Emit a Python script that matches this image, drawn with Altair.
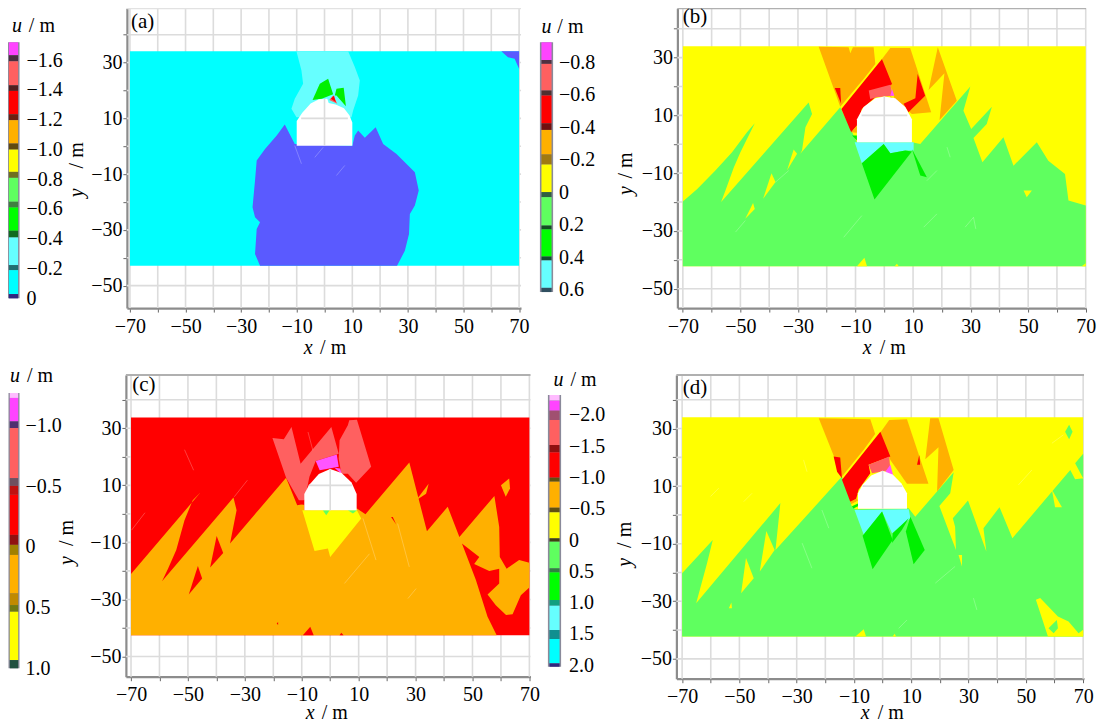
import altair as alt
import pandas as pd

FONT = "'Liberation Serif', 'Times New Roman', serif"
Y = "#ffff00"; LG = "#5fff5f"; G = "#00f000"; LC = "#66ffff"; C = "#00ffff"
O = "#ffb000"; R = "#ff0000"; S = "#ff6060"; M = "#ff55ff"; B = "#5a5aff"; W = "#ffffff"

# ---- panel (a) regions: colour, (x, y) vertices in metres
shapes_a = [
    (C, [(-70, 34.1), (70, 34.1), (70, -42.9), (-70, -42.9)]),
    (LC, [(-10.1, 34.1), (8.5, 34.1), (10.9, 28.4), (12.7, 23.6), (12.1, 18.2), (10.3, 12.8), (9.7, 10.4), (-10.1, 10.4), (-11.9, 13.4), (-10.7, 17), (-7.7, 22.4), (-8.3, 27.2)]),
    (B, [(-23.2, -42.9), (-25, -38.7), (-24.4, -29.7), (-23.2, -27.3), (-25, -25.5), (-25.9, -21.9), (-25, -12.3), (-24.4, -5.1),
         (-21.4, -1), (-17.2, 3.8), (-14.3, 7.8), (-10.7, 0.8), (10, 0.2), (10.9, 3.8), (12.1, 5.6), (14.5, 3), (18.4, 6.8),
         (21.1, 0.8), (25.9, -2.8), (32.5, -9.3), (33.9, -15.9), (32.5, -21.3), (30.7, -24.3), (30.4, -31.5), (28.9, -37.5), (26.1, -42.9)]),
    (B, [(63.6, 34.1), (70, 34.1), (70, 27.8), (68.4, 31.4), (66, 31.9)]),
    (G, [(-4.3, 16.6), (-1.7, 22.4), (1.3, 24.2), (3.1, 18.6), (-1, 17)]),
    (G, [(3.7, 18.2), (4.3, 20.6), (6.9, 21), (7.7, 14.3), (4.3, 18.2)]),
    (S, [(1.7, 16.6), (3.1, 18.2), (4.6, 15.2)]),
    (R, [(2.3, 17), (3.4, 18.2), (4.1, 15.8)]),
    (W, [(-10, 0.2), (-10, 9), (-8, 12), (-5, 15.3), (-2, 16.8), (1, 17), (1.5, 15.5), (4, 15), (7, 13.6), (9, 11), (10, 8.5), (10, 0.2)]),
]
# ---- panel (b)
shapes_b = [
    (Y, [(-70, 33.9), (70, 33.9), (70, -42.2), (-70, -42.2)]),
    (LG, [(-70, -19.8), (-65, -15.5), (-58.7, -9.1), (-52.9, -2.8), (-47.7, 4.2), (-45, 7.3), (-50, -2.8), (-52.3, -8), (-55.2, -16), (-56.7, -20),
          (-26.3, 14.5), (-25.1, 10.5), (-27.4, 5.9), (-28.6, -2.2), (-29.2, -3.3), (-15.3, 12.8), (-9.5, 0.7), (9.6, 0.7), (12.5, 0.1),
          (29.9, 20), (27.5, 11.6), (30.2, 5.3), (37.4, 13), (35.6, 7), (31, 2.2), (34.1, -6.2), (41.4, 2.4), (44.9, -7.4), (53, 0.7),
          (57, -5.7), (62.8, -10.3), (64, -19.5), (70, -21.2), (70, -42.2), (-70, -42.2)]),
    (Y, [(-33.8, -9.1), (-31.5, -1.8), (-30.3, -3.3)]),
    (Y, [(-42.1, -18.9), (-39.2, -10), (-37.8, -13.1)]),
    (Y, [(-48.3, -25.8), (-45.6, -20.3), (-45, -22.4)]),
    (Y, [(-9.5, -42.2), (-6.9, -39.3), (-6, -42.2)]),
    (Y, [(48.4, -16), (51.3, -16), (49.5, -18.3)]),
    (Y, [(3.6, -42.2), (4.4, -41.4), (5, -42.2)]),
    (Y, [(68.6, -42.2), (70, -41.2), (70, -42.2)]),
    (O, [(-22.8, 33.8), (-12.4, 33.6), (-11.8, 31.5), (-10.9, 33.6), (-3.7, 33.6), (-3.1, 27.8), (-7.2, 22.6), (-15.3, 13)]),
    (O, [(2.1, 33.3), (9, 33.3), (16.3, 11.1), (9.6, 10.5), (3.8, 15.1), (-0.8, 29.5)]),
    (O, [(18.6, 33.6), (25.2, 15.1), (19.2, 8.4), (20.9, 24.6), (15.4, 18.8)]),
    (R, [(-14.9, 12.2), (-0.8, 29.5), (2.7, 20.9), (-3.1, 16.3), (-7.8, 12.2), (-9.5, 6.5), (-11.5, 4.2)]),
    (R, [(-17.2, 19.5), (-15.3, 19.5), (-15, 14)]),
    (R, [(11.6, 24.3), (14.2, 16.8), (8.4, 11.1), (6.7, 14), (10.8, 15.9)]),
    (S, [(-5.4, 18.6), (2.1, 20.6), (3, 16.8), (-2.5, 16.3), (-4.9, 15.7)]),
    (M, [(2.7, 19.1), (3.5, 16.8), (2.1, 16.8)]),
    (O, [(2.1, 16.8), (4.1, 14.9), (2.1, 15.1)]),
    (O, [(-11.5, 4.2), (-9.5, 6.5), (-9.5, 4)]),
    (G, [(-11.2, 3), (-9.5, 3), (-9.5, 1.3)]),
    (LC, [(-10.3, 0.7), (10.2, 0.7), (10.2, -2.2), (7.3, -2.2), (2.1, -3.1), (-0.2, 0.1), (-7.8, -6.6)]),
    (G, [(-7.8, -6.6), (-0.2, 0.1), (2.1, -3.1), (7.3, -2.2), (9.6, -2.5), (-3.4, -19.1)]),
    (G, [(9.6, -1.6), (14.8, -11.4), (12.5, -10.8)]),
    (W, [(-9.5, 0.7), (-9.5, 8.7), (-7.2, 12.9), (-3.1, 15.9), (0, 16.5), (3.8, 15.9), (7.3, 12.9), (9.6, 8.7), (9.6, 0.7)]),
]
# ---- panel (c)
shapes_c = [
    (R, [(-70, 33.8), (70, 33.8), (70, -42.6), (-70, -42.6)]),
    (O, [(-70, -21.1), (-45.6, 7.5), (-48.3, 4.8), (-51.2, -2.2), (-54.1, -12.7), (-57, -19.2), (-59.1, -23.6), (-34, 5.7), (-32.9, 1.3),
         (-35.2, -10.4), (-15.5, 12.7), (-11.6, 3), (-9.1, 3.5), (-9.1, 1.3), (9.4, 1.9), (12.4, -0.1), (27.8, 18), (34, -6.1), (41.3, 2.5),
         (45.4, -8.1), (57.7, 6.3), (59.4, -4.6), (59.6, -15.1), (62, -19.2), (66.4, -16.2), (70, -17.1), (70, -25.8), (67, -28.5),
         (64.1, -35.2), (61.8, -35.5), (58.2, -32), (55.3, -28.3), (59.4, -24.4), (59.4, -19.2), (55.9, -20), (50.6, -17.6), (52.4, -15.1),
         (46.3, -10.4), (51.2, -23.2), (55.3, -36.1), (58.5, -42.6), (-70, -42.6)]),
    (R, [(-49.7, -28.3), (-46.5, -18.3), (-45, -22.7)]),
    (R, [(-42.2, -18.8), (-39.9, -7.8), (-37.6, -13.7)]),
    (R, [(-9.6, -42.6), (-7, -39.6), (-5.8, -42.6)]),
    (R, [(3.3, -42.6), (3.9, -41.7), (4.7, -42.6)]),
    (R, [(21.4, -1.1), (22, -1.1), (23.2, -3.7)]),
    (R, [(-18.8, -38.4), (-18.3, -37.9), (-18.3, -39)]),
    (O, [(30.2, 4.8), (34.6, 10.6), (33.7, 7.1)]),
    (O, [(60, 10), (62.9, 12.4), (63.2, 8.9), (61.7, 6)]),
    (S, [(-20.3, 26.6), (-16.3, 26.2), (-13.6, 30.5), (-10.4, 17.6), (0.4, 30.5), (3, 21.1), (-5.1, 18.5), (-7.3, 13), (-9, 4.8), (-11, 4.8), (-15.5, 12.7)]),
    (S, [(3.3, 25.8), (6.2, 31.1), (6.7, 32.8), (9.4, 33), (14.4, 16.5), (9.1, 10.9), (6.2, 14.1), (3.9, 14.1), (3, 19.4)]),
    (M, [(-5.1, 18.5), (2.3, 20.8), (3, 16.5), (-3.7, 15.3)]),
    (M, [(1.5, 16.2), (3.5, 15.9), (4.1, 13.9)]),
    (R, [(-11, 3.6), (-8.7, 5), (-8.7, 3)]),
    (Y, [(-9.8, 1.3), (9.4, 1.3), (10.9, -1.6), (0, -15.1), (-0.8, -12.1), (-5.5, -13)]),
    (LG, [(-2.6, 1.3), (-0.2, 1.3), (-1.4, -0.5)]),
    (LG, [(6.2, 1.3), (9.4, 1.3), (8, 0.1)]),
    (W, [(-9.1, 1.3), (-9.1, 7), (-7.5, 10), (-4, 14), (0, 15.7), (4, 14.3), (7.5, 11), (9.3, 7), (9.3, 1.3)]),
]
# ---- panel (d)
shapes_d = [
    (Y, [(-70, 33.9), (70, 33.9), (70, -42.2), (-70, -42.2)]),
    (LG, [(-70, -20.3), (-59.3, -8.7), (-61.3, -16.8), (-65.1, -30.7), (-35.7, 4.1), (-37.4, -12.2), (-14.2, 13.3), (-10.7, 2.9), (-9.5, 2), (9.1, 2.3),
          (11.4, -0.6), (24.8, 14.8), (23.6, 7.5), (19.8, 3.1), (25.6, -12.2), (25.3, -4.1), (24.5, -1.2), (29.8, 5), (36.2, -12.7), (35.2, -4.6),
          (40.8, 2.7), (45.3, -8.1), (65.5, 15.6), (67.2, 12.4), (70, 12.7), (67.2, 17.9), (70, 21.2), (70, -42.2), (-70, -42.2)]),
    (Y, [(-42.9, -19.7), (-40.6, -5.6), (-37.7, -12.2)]),
    (Y, [(-49.4, -27.2), (-47.7, -15), (-45, -22)]),
    (Y, [(-53.7, -32.4), (-52.8, -30.4), (-52.6, -32.4)]),
    (Y, [(-9.5, -42.2), (-6.6, -39.7), (-5.8, -42.2)]),
    (Y, [(3.5, -42.2), (4.2, -41.3), (4.7, -42.2)]),
    (Y, [(59.1, 8.7), (62.6, 2.7), (60.2, 2.7)]),
    (Y, [(26.5, -13.9), (27.7, -13.9), (27.7, -17.9)]),
    (Y, [(53.5, -29.5), (55, -28.9), (61.2, -35.3), (64.9, -37), (68.4, -41.1), (70, -39.9), (70, -42.2), (57.7, -42.2)]),
    (LG, [(57.9, -39.4), (60.8, -36.5), (61.2, -39.4), (59.7, -41.1)]),
    (LG, [(65.1, 31.3), (66.3, 28.9), (65.1, 26.3), (63.7, 28.9)]),
    (O, [(-22.3, 33.6), (-4.3, 33.2), (-2.6, 28.1), (-6.6, 22.6), (-14.2, 13.3)]),
    (O, [(2.3, 33), (8.5, 33.2), (16, 10.8), (8.5, 10.8), (2.7, 19.1), (-0.8, 28.6)]),
    (O, [(16.6, 33.6), (19.5, 33.6), (24.8, 15.6), (19, 8.1), (19.5, 23.5), (14.9, 19.3)]),
    (R, [(-14.2, 12.2), (-0.8, 28.9), (2.7, 20.3), (-4.9, 17.4), (-4.3, 14.5), (-8.4, 8.7), (-9.5, 4.6), (-11.3, 4.6)]),
    (R, [(-17.1, 20.3), (-14.8, 19.9), (-14.2, 12.7), (-15.9, 15)]),
    (R, [(12.8, 20.8), (13.1, 17.4), (12, 17.4)]),
    (S, [(-4.9, 17.4), (2.3, 20.3), (2.7, 15.6), (-3.7, 14.5)]),
    (M, [(2.7, 17.4), (3.8, 13.3), (0.3, 14.1)]),
    (O, [(-11.3, 4.6), (-9, 5.8), (-8.6, 4.9), (-10.9, 3.7)]),
    (Y, [(-10.9, 3.7), (-8.6, 4.9), (-8.6, 4), (-10.7, 3)]),
    (G, [(-10.7, 3), (-8.6, 4), (-8.6, 3), (-10.2, 2.2)]),
    (LC, [(-9.8, 1.7), (9.1, 2), (9.7, -1.2), (3.3, -6.4), (-0.2, 1.2), (-6.6, -6.9)]),
    (G, [(-0.2, 1.2), (3.5, -8.7), (-3.5, -18.9), (-7, -7.2)]),
    (G, [(3.5, -6.4), (9.1, -1.2), (6.7, -5.2), (3.3, -9.8)]),
    (G, [(9.7, -0.6), (14.7, -12.2), (10.8, -17.1), (8.1, -5.8)]),
    (W, [(-8.6, 2.1), (-8.6, 7.5), (-7, 10.5), (-4, 13.7), (0, 15.3), (3.5, 14), (6.5, 11), (8.5, 7.5), (8.5, 2.1)]),
]

# ---- thin pale cracks: (x0, y0, x1, y1)
cracks_a = [(-10.7, 0.2, -8.3, -6.3), (-3.5, -4, -0.5, -0.4), (4.3, -10.5, 7.3, -6.9)]
cracks_b = [(21.8, -1, 22.9, -4.5), (18.3, -9.1, 14.8, -12.6), (-37.8, -13.1, -33.2, -9.1), (-51.7, -30.4, -48.3, -26.4),
            (-14.1, -32.2, -7.8, -24.7), (13.7, -28.7, 18.3, -24.1), (28.1, -28.7, 31, -25.3), (31, -25.3, 31.8, -29.3)]
cracks_c = [(-51.2, 22.5, -48, 15.3), (-29.1, 11.8, -33.7, 6), (-65.1, 0.4, -69.8, -5.7), (11.5, -1.6, 16.1, -16.2),
            (23.7, -3.4, 27.8, -18.6), (13.8, -14, 5, -24.4), (30.2, -26.2, 27.3, -29.7), (-7.8, 28.7, -6.1, 22.3)]
cracks_d = [(25.3, -17.9, 18.4, -23.7), (31.7, -28.9, 32.9, -33), (52.1, 15.6, 47.4, 10.4), (63.1, 27.8, 59.1, 24.9),
            (8.5, -36.5, 5.6, -39.4), (-21.2, 1.7, -18.8, -4.6), (-28.1, -9.8, -24.7, -18.5), (-57.2, 9.3, -60.1, 6.4),
            (-45.6, 7.5, -48.5, 4.6), (-27.6, 19.1, -26.4, 15)]

# ---- colour bars: (upper u, lower u, colour)
bands_a = [(-1.721, -1.634, "#ff44ff"), (-1.634, -1.593, "#4a3040"), (-1.593, -1.432, S), (-1.432, -1.394, "#502020"),
           (-1.394, -1.237, R), (-1.237, -1.197, "#6a2010"), (-1.197, -1.04, O), (-1.04, -0.999, "#604a10"),
           (-0.999, -0.849, Y), (-0.849, -0.809, "#6f6f20"), (-0.809, -0.648, LG), (-0.648, -0.61, "#408040"),
           (-0.61, -0.453, "#00ff00"), (-0.453, -0.408, "#106a20"), (-0.408, -0.222, LC), (-0.222, -0.188, "#207070"),
           (-0.188, -0.027, C), (-0.027, 0.002, "#302880")]
bands_b = [(-0.923, -0.814, "#ff44ff"), (-0.814, -0.79, "#503040"), (-0.79, -0.626, S), (-0.626, -0.595, "#503030"),
           (-0.595, -0.424, R), (-0.424, -0.383, "#701010"), (-0.383, -0.232, O), (-0.232, -0.17, "#a07a10"),
           (-0.17, 0, Y), (0, 0.031, "#306040"), (0.031, 0.206, LG), (0.206, 0.23, "#105020"),
           (0.23, 0.397, "#00ff00"), (0.397, 0.421, "#105030"), (0.421, 0.59, LC), (0.59, 0.616, "#305060")]
bands_c = [(-1.268, -1.227, "#ffbbff"), (-1.227, -1.034, "#ff44ff"), (-1.034, -0.979, "#503070"), (-0.979, -0.567, S),
           (-0.567, -0.503, "#705060"), (-0.503, -0.429, "#c01010"), (-0.429, -0.099, R), (-0.099, -0.017, "#901010"),
           (-0.017, 0.066, "#a08000"), (0.066, 0.382, O), (0.382, 0.479, "#c08a00"), (0.479, 0.534, "#707a10"),
           (0.534, 0.932, Y), (0.932, 1.0, "#205040")]
bands_d = [(-2.32, -2.229, "#ffbbff"), (-2.229, -2.069, "#ff44ff"), (-2.069, -1.92, "#a05070"), (-1.92, -1.52, S),
           (-1.52, -1.403, "#901010"), (-1.403, -0.997, R), (-0.997, -0.933, "#605010"), (-0.933, -0.517, O),
           (-0.517, -0.443, "#605010"), (-0.443, -0.027, Y), (-0.027, 0.027, "#404010"), (0.027, 0.453, LG),
           (0.453, 0.517, "#308040"), (0.517, 0.96, "#00ff00"), (0.96, 1.051, "#10a080"), (1.051, 1.44, LC),
           (1.44, 1.584, "#108f90"), (1.584, 1.973, C), (1.973, 2.027, "#302880")]

ticks_a = [-1.6, -1.4, -1.2, -1.0, -0.8, -0.6, -0.4, -0.2, 0]
ticks_b = [-0.8, -0.6, -0.4, -0.2, 0, 0.2, 0.4, 0.6]
ticks_c = [-1.0, -0.5, 0, 0.5, 1.0]
ticks_d = [-2.0, -1.5, -1.0, -0.5, 0, 0.5, 1.0, 1.5, 2.0]

x_grid = list(range(-70, 71, 10))
y_grid = list(range(-50, 41, 10))

panels = [
    dict(name="(a)", shapes=shapes_a, cracks=cracks_a, xd=[-71.1, 70.7], xr=[119, 513.5], yd=[-58.06, 49.46], yr=[300, 0], top="#e2e2e2",
         lab=(-69.6, 44.4), xt=(-7.5, 7.8, -72.4), yt=(-89.2, -18.3, 1.4)),
    dict(name="(b)", shapes=shapes_b, cracks=cracks_b, xd=[-71.9, 70.1], xr=[670, 1079], yd=[-56.7, 47.06], yr=[300, 0], top="#b0b0b0",
         lab=(-70, 43.9), xt=(-7.5, 7.5, -70.6), yt=(-89.9, -17.6, -2.8)),
    dict(name="(c)", shapes=shapes_c, cracks=cracks_c, xd=[-71.8, 70.4], xr=[118, 523], yd=[-57.1, 48.7], yr=[669, 367], top="#b0b0b0",
         lab=(-69.6, 45.2), xt=(-8.6, 6.2, -69.8), yt=(-92.5, -17.9, -2.1)),
    dict(name="(d)", shapes=shapes_d, cracks=cracks_d, xd=[-72, 70.3], xr=[669, 1077], yd=[-56.9, 48.6], yr=[671, 367], top="#b0b0b0",
         lab=(-69.8, 44.1), xt=(-7.6, 7.4, -68.8), yt=(-89.8, -18, -2.4)),
]
bars = [
    dict(bands=bands_a, ticks=ticks_a, xr=[0, 11], yd=[-1.721, 0.002], yr=[34, 290.3], pad=7, t=(0.36, 4.27, -1.829)),
    dict(bands=bands_b, ticks=ticks_b, xr=[533, 545], yd=[-0.923, 0.616], yr=[34, 284], pad=6, t=(0.08, 3.58, -1.02)),
    dict(bands=bands_c, ticks=ticks_c, xr=[1, 11], yd=[-1.268, 1.0], yr=[385, 660.6], pad=6, t=(0.1, 4.4, -1.411)),
    dict(bands=bands_d, ticks=ticks_d, xr=[541, 553], yd=[-2.32, 2.027], yr=[387, 659], pad=8, t=(0.42, 4.0, -2.56)),
]

W_ALL, H_ALL = 1090, 716
GRID = "#dcdcdc"
lin = lambda d, r: alt.Scale(domain=d, range=r, nice=False, zero=False, clamp=False)
layers = []


def label_text(x, y, sx, sy, text, italic=False, align="left", angle=0, size=20):
    kw = dict(font=FONT, fontSize=size, align=align, baseline="middle", color="black", clip=False)
    if italic:
        kw["fontStyle"] = "italic"
    if angle:
        kw["angle"] = angle
    return alt.Chart(pd.DataFrame({"x": [x], "y": [y], "t": [text]})).mark_text(**kw).encode(
        x=alt.X("x:Q", scale=sx, axis=None), y=alt.Y("y:Q", scale=sy, axis=None), text="t:N")


for p in panels:
    sx, sy = lin(p["xd"], p["xr"]), lin(p["yd"], p["yr"])
    xlo, xhi, ylo, yhi = p["xd"][0], p["xd"][1], p["yd"][0], p["yd"][1]
    vg = pd.DataFrame({"x": x_grid, "a": ylo, "b": yhi})
    hg = pd.DataFrame({"y": y_grid, "a": xlo, "b": xhi})
    layers.append(alt.Chart(vg).mark_rule(color=GRID, strokeWidth=1.6).encode(
        x=alt.X("x:Q", scale=sx, axis=None), y=alt.Y("a:Q", scale=sy, axis=None), y2="b:Q"))
    layers.append(alt.Chart(hg).mark_rule(color=GRID, strokeWidth=1.6).encode(
        y=alt.Y("y:Q", scale=sy, axis=None), x=alt.X("a:Q", scale=sx, axis=None), x2="b:Q"))
    layers.append(alt.Chart(pd.DataFrame({"y": [yhi], "a": [xlo], "b": [xhi]})).mark_rule(color=p["top"], strokeWidth=2).encode(
        y=alt.Y("y:Q", scale=sy, axis=None), x=alt.X("a:Q", scale=sx, axis=None), x2="b:Q"))
    rows = []
    for i, (c, pts) in enumerate(p["shapes"]):
        for j, (x, y) in enumerate(pts):
            rows.append({"id": i, "o": j, "x": x, "y": y, "c": c})
    layers.append(alt.Chart(pd.DataFrame(rows)).mark_line(filled=True, strokeWidth=0, interpolate="linear-closed").encode(
        x=alt.X("x:Q", scale=sx, axis=None), y=alt.Y("y:Q", scale=sy, axis=None),
        detail="id:N", order="o:Q", color=alt.Color("c:N", scale=None)))
    # thin pale cracks across the regions
    cr = pd.DataFrame(p["cracks"], columns=["x0", "y0", "x1", "y1"])
    layers.append(alt.Chart(cr).mark_rule(color="#ffffff", strokeWidth=0.8, opacity=0.3).encode(
        x=alt.X("x0:Q", scale=sx, axis=None), x2="x1:Q", y=alt.Y("y0:Q", scale=sy, axis=None), y2="y1:Q"))
    # grid seen through the tunnel opening
    last = p["shapes"][-1][1]
    tx0, tx1 = last[0][0], last[-1][0]
    ty0 = last[0][1]
    ttop = max(v[1] for v in last)
    layers.append(alt.Chart(pd.DataFrame({"x": [0], "a": [ty0], "b": [ttop]})).mark_rule(color=GRID, strokeWidth=1.6).encode(
        x=alt.X("x:Q", scale=sx, axis=None), y=alt.Y("a:Q", scale=sy, axis=None), y2="b:Q"))
    layers.append(alt.Chart(pd.DataFrame({"y": [10], "a": [tx0 + 1.6], "b": [tx1 - 1.6]})).mark_rule(color=GRID, strokeWidth=1.6).encode(
        y=alt.Y("y:Q", scale=sy, axis=None), x=alt.X("a:Q", scale=sx, axis=None), x2="b:Q"))
    # axes
    expr = "abs(datum.value)%20==10 ? (datum.value<0?'\u2212':'')+abs(datum.value) : ''"
    ax_common = dict(title=None, grid=False, domainColor="#8c8c8c", domainWidth=2.2, tickColor="#666666", tickSize=4, tickWidth=1,
                     labelFont=FONT, labelFontSize=20, labelColor="black", labelOverlap=False, labelFlush=False, labelExpr=expr)
    axx = alt.Axis(values=x_grid, orient="bottom", offset=p["yr"][0] - H_ALL, labelPadding=4, labelBaseline="top", **ax_common)
    axy = alt.Axis(values=y_grid, orient="left", offset=-p["xr"][0], labelPadding=1, **ax_common)
    layers.append(alt.Chart(pd.DataFrame({"x": [0], "y": [0]})).mark_point(opacity=0).encode(
        x=alt.X("x:Q", scale=sx, axis=axx), y=alt.Y("y:Q", scale=sy, axis=axy)))
    # texts
    layers.append(label_text(p["lab"][0], p["lab"][1], sx, sy, p["name"], size=21))
    xa, xb, xy = p["xt"]
    layers.append(label_text(xa, xy, sx, sy, "x", italic=True))
    layers.append(label_text(xb, xy, sx, sy, "/ m", align="right"))
    ya, yb, yc = p["yt"]
    layers.append(label_text(ya, yb, sx, sy, "y", italic=True, angle=270, align="left"))
    layers.append(label_text(ya, yc, sx, sy, "/ m", angle=270, align="right"))

for b in bars:
    sx, sy = lin([0, 1], b["xr"]), lin(b["yd"], b["yr"])
    df = pd.DataFrame({"u0": [v[0] for v in b["bands"]], "u1": [v[1] for v in b["bands"]], "c": [v[2] for v in b["bands"]],
                       "x0": 0.08, "x1": 0.92})
    layers.append(alt.Chart(pd.DataFrame({"x0": [-0.05], "x1": [1.05], "u0": [b["yd"][0]], "u1": [b["yd"][1]]})).mark_rect(color="#8a8a9a").encode(
        x=alt.X("x0:Q", scale=sx, axis=None), x2="x1:Q", y=alt.Y("u0:Q", scale=sy, axis=None), y2="u1:Q"))
    layers.append(alt.Chart(df).mark_rect().encode(
        x=alt.X("x0:Q", scale=sx, axis=None), x2="x1:Q", y=alt.Y("u0:Q", scale=sy, axis=None), y2="u1:Q",
        color=alt.Color("c:N", scale=None)))
    expr = "datum.value==0 ? '0' : (datum.value<0?'\u2212':'')+format(abs(datum.value),'.1f')"
    ay = alt.Axis(values=b["ticks"], orient="right", offset=b["xr"][1] - W_ALL, title=None, grid=False, domain=False, ticks=False,
                  labelFont=FONT, labelFontSize=20, labelColor="black", labelOverlap=False, labelFlush=False,
                  labelPadding=b["pad"], labelExpr=expr)
    layers.append(alt.Chart(pd.DataFrame({"x": [0], "y": [0]})).mark_point(opacity=0).encode(
        x=alt.X("x:Q", scale=sx, axis=None), y=alt.Y("y:Q", scale=sy, axis=ay)))
    ta, tb, ty = b["t"]
    layers.append(label_text(ta, ty, sx, sy, "u", italic=True))
    layers.append(label_text(tb, ty, sx, sy, "/ m", align="right"))

chart = alt.layer(*layers).resolve_scale(x="independent", y="independent").properties(
    width=W_ALL, height=H_ALL, padding=0, background="white",
    autosize=alt.AutoSizeParams(type="none")).configure_view(stroke=None)

chart.save("out.html", embed_options={"renderer": "svg", "actions": False})
